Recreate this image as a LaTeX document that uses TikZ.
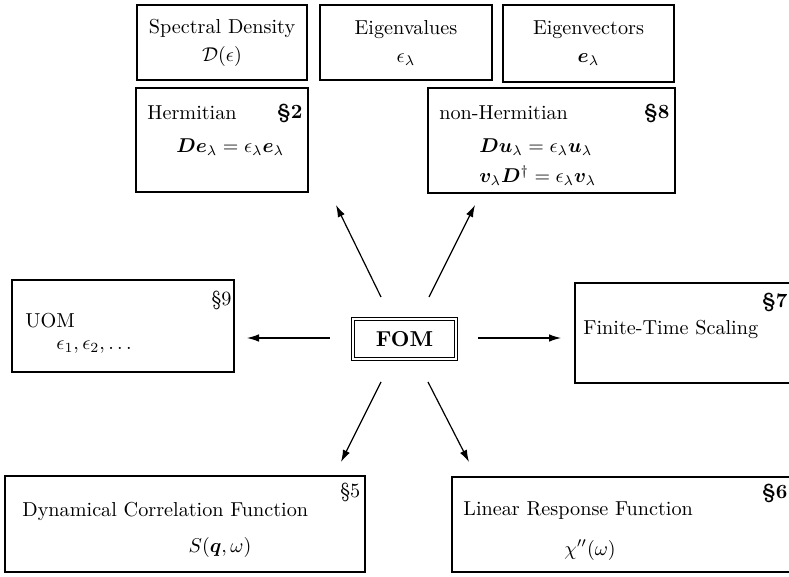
\documentclass[tikz,border=0pt]{standalone}
\usepackage{amsmath,bm}
\usetikzlibrary{arrows.meta}
\begin{document}
\begin{tikzpicture}[x=0.5pt,y=-0.5pt,
  font=\fontsize{10.1}{14}\selectfont,
  box/.style={draw, line width=0.8pt, rectangle, inner sep=0pt},
  fombox/.style={draw, double, double distance=1.2pt, line width=0.5pt, rectangle, inner sep=0pt},
  arr/.style={line width=0.6pt, -{Latex[length=6pt,width=3.8pt]}},
  lbl/.style={inner sep=0pt},
  sec/.style={inner sep=0pt, font=\fontsize{10.1}{14}\selectfont\bfseries}]
\useasboundingbox (0,0) rectangle (789,577);
\clip (0,0) rectangle (789,577);

% top row
\node[box, minimum width=85pt, minimum height=37.5pt, align=center] (spec) at (222,42.5) {Spectral Density\\$\mathcal{D}(\epsilon)$};
\node[box, minimum width=86pt, minimum height=37.5pt, align=center] (eval) at (406,42.5) {Eigenvalues\\$\epsilon_\lambda$};
\node[box, minimum width=85.5pt, minimum height=38.5pt, align=center] (evec) at (588.5,43.5) {Eigenvectors\\$\bm{e}_\lambda$};

% Hermitian
\node[box, minimum width=86pt, minimum height=52pt] (herm) at (222,140) {};
\node[lbl, anchor=west] (hermT) at (147,113) {Hermitian};
\node[sec, anchor=east] (hermS) at (303,113) {\S2};
\node[lbl, anchor=west] (hermE) at (176,147) {$\bm{D}\bm{e}_\lambda = \epsilon_\lambda\bm{e}_\lambda$};

% non-Hermitian
\node[box, minimum width=123.5pt, minimum height=52.5pt] (nonh) at (551.5,140.5) {};
\node[lbl, anchor=west] (nonhT) at (439,113) {non-Hermitian};
\node[sec, anchor=east] (nonhS) at (670,113) {\S8};
\node[lbl, anchor=west] (nonhE1) at (479,147) {$\bm{D}\bm{u}_\lambda = \epsilon_\lambda\bm{u}_\lambda$};
\node[lbl, anchor=west] (nonhE2) at (479,176) {$\bm{v}_\lambda\bm{D}^\dagger = \epsilon_\lambda\bm{v}_\lambda$};

% UOM
\node[box, minimum width=111pt, minimum height=46pt] (uom) at (123,326) {};
\node[lbl, anchor=west] (uomT) at (25,321) {UOM};
\node[lbl, anchor=east] (uomS) at (232,300) {\S9};
\node[lbl, anchor=west] (uomE) at (56,347) {$\epsilon_1,\epsilon_2,\ldots$};

% FOM
\node[fombox, minimum width=51.5pt, minimum height=20pt, font=\fontsize{10.8}{13.5}\selectfont\bfseries] (fom) at (404.5,339) {FOM};

% Finite-Time Scaling
\node[box, minimum width=127pt, minimum height=50pt] (fts) at (702,333) {};
\node[lbl, anchor=west] (ftsT) at (583,329) {Finite-Time Scaling};
\node[sec, anchor=east] (ftsS) at (788,302) {\S7};

% Dynamical Correlation Function
\node[box, minimum width=180pt, minimum height=48pt] (dyn) at (185,524) {};
\node[lbl, anchor=west] (dynT) at (22,511) {Dynamical Correlation Function};
\node[lbl, anchor=west] (dynS) at (340,492) {\S5};
\node[lbl] (dynE) at (220,548) {$S(\bm{q},\omega)$};

% Linear Response Function
\node[box, minimum width=189pt, minimum height=47.5pt] (lin) at (641,524.5) {};
\node[lbl, anchor=west] (linT) at (463,511) {Linear Response Function};
\node[sec, anchor=east] (linS) at (788,493) {\S6};
\node[lbl] (linE) at (590,550) {$\chi''(\omega)$};

% arrows
\coordinate (ulS) at (381,297); \coordinate (ulE) at (336,205);
\coordinate (urS) at (429,297); \coordinate (urE) at (475,205);
\coordinate (lS) at (330,338);  \coordinate (lE) at (247,338);
\coordinate (rS) at (478,338);  \coordinate (rE) at (561,338);
\coordinate (dlS) at (381,382); \coordinate (dlE) at (341,462);
\coordinate (drS) at (428,382); \coordinate (drE) at (469,462);
\draw[arr] (ulS) -- (ulE);
\draw[arr] (urS) -- (urE);
\draw[arr] (lS) -- (lE);
\draw[arr] (rS) -- (rE);
\draw[arr] (dlS) -- (dlE);
\draw[arr] (drS) -- (drE);
\end{tikzpicture}
\end{document}
